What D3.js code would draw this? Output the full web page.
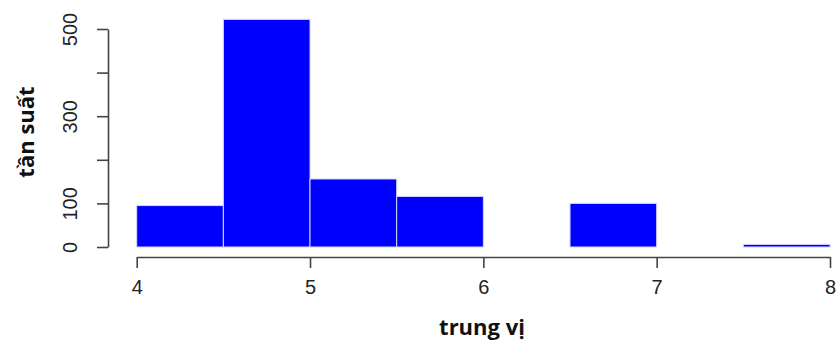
<!DOCTYPE html>
<html>
<head>
<meta charset="utf-8">
<script src="https://cdn.jsdelivr.net/npm/d3@7"></script>
<style>
  body { margin: 0; background: #fff; }
  svg { display: block; }
</style>
</head>
<body>
<svg id="chart" width="837" height="343"></svg>
<script>
// Histogram bins (left edge, right edge) and their counts
const binStarts = [4.0, 4.5, 5.0, 5.5, 6.0, 6.5, 7.0, 7.5];
const binEnds   = [4.5, 5.0, 5.5, 6.0, 6.5, 7.0, 7.5, 8.0];
const counts    = [95, 522, 156, 116, 0, 100, 0, 6];
const xTicks = [4, 5, 6, 7, 8];
const yTicks = [0, 100, 200, 300, 400, 500];
const yLabelled = [0, 100, 300, 500];
const xTitle = "trung vị";
const yTitle = "tần suất";

const svg = d3.select("#chart");

const x = d3.scaleLinear().domain([4, 8]).range([136.7, 830]);
const y = d3.scaleLinear().domain([0, 500]).range([247, 29]);

const bins = binStarts.map((s, i) => ({ x0: s, x1: binEnds[i], n: counts[i] }));

// Bars
svg.append("g")
  .selectAll("rect")
  .data(bins.filter(d => d.n > 0))
  .join("rect")
  .attr("x", d => x(d.x0))
  .attr("y", d => y(d.n))
  .attr("width", d => x(d.x1) - x(d.x0))
  .attr("height", d => y(0) - y(d.n))
  .attr("fill", "#0000ff")
  .attr("stroke", "#d6d6ff")
  .attr("stroke-width", 1);

const tickFont = "'Liberation Sans', Arial, sans-serif";

// X axis
const xAxis = svg.append("g")
  .attr("transform", "translate(0,257)")
  .call(d3.axisBottom(x).tickValues(xTicks).tickFormat(d3.format("d")).tickSize(11).tickPadding(12).tickSizeOuter(0));
xAxis.select(".domain").attr("stroke", "#444").attr("stroke-width", 1.6);
xAxis.selectAll(".tick line").attr("stroke", "#444").attr("stroke-width", 1.6);
xAxis.selectAll(".tick text")
  .attr("font-family", tickFont).attr("font-size", 20).attr("fill", "#222");

// Y axis with rotated labels
const yAxis = svg.append("g")
  .attr("transform", "translate(108,0)")
  .call(d3.axisLeft(y).tickValues(yTicks).tickSize(11).tickSizeOuter(0));
yAxis.select(".domain").attr("stroke", "#444").attr("stroke-width", 1.6);
yAxis.selectAll(".tick line").attr("stroke", "#444").attr("stroke-width", 1.6);
yAxis.selectAll(".tick text")
  .text(d => yLabelled.includes(d) ? d : "")
  .attr("font-family", tickFont).attr("font-size", 20).attr("fill", "#222")
  .attr("x", 0).attr("dy", 0)
  .attr("text-anchor", "middle")
  .attr("transform", "translate(-31,0) rotate(-90)");

// Axis titles
svg.append("text")
  .attr("x", 482).attr("y", 335)
  .attr("text-anchor", "middle")
  .attr("font-family", "'Open Sans', 'Noto Sans', sans-serif")
  .attr("font-weight", "bold").attr("font-size", 22).attr("fill", "#111")
  .text(xTitle);

svg.append("text")
  .attr("transform", "translate(34,132) rotate(-90)")
  .attr("text-anchor", "middle")
  .attr("font-family", "'Open Sans', 'Noto Sans', sans-serif")
  .attr("font-weight", "bold").attr("font-size", 22).attr("fill", "#111")
  .text(yTitle);
</script>
</body>
</html>
